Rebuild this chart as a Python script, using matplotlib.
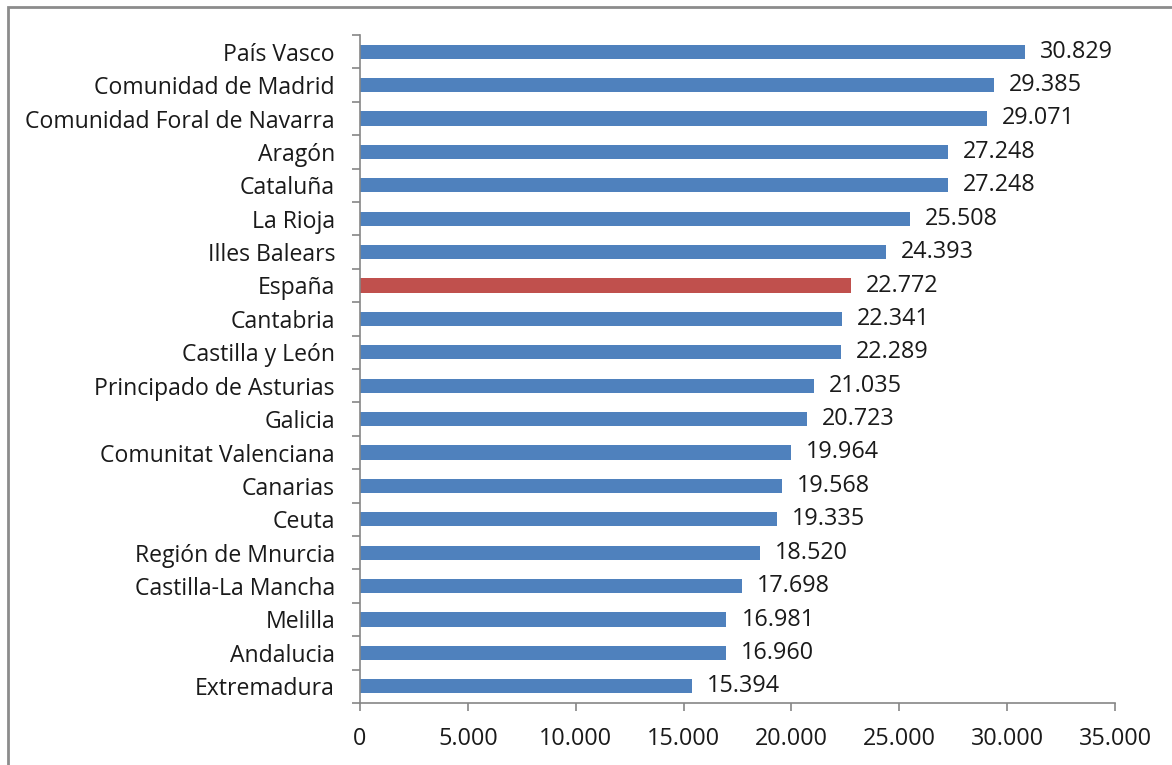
import matplotlib.pyplot as plt
import matplotlib.patches as patches
import numpy as np
from matplotlib.ticker import FuncFormatter, FixedLocator

regions = ['País Vasco', 'Comunidad de Madrid', 'Comunidad Foral de Navarra',
           'Aragón', 'Cataluña', 'La Rioja', 'Illes Balears', 'España',
           'Cantabria', 'Castilla y León', 'Principado de Asturias', 'Galicia',
           'Comunitat Valenciana', 'Canarias', 'Ceuta', 'Región de Mnurcia',
           'Castilla-La Mancha', 'Melilla', 'Andalucia', 'Extremadura']
values = [30829, 29385, 29071, 27248, 27248, 25508, 24393, 22772, 22341, 22289,
          21035, 20723, 19964, 19568, 19335, 18520, 17698, 16981, 16960, 15394]
highlight = 'España'

plt.rcParams['font.family'] = ['Open Sans', 'DejaVu Sans']


def miles(v, pos=None):
    return f'{int(v):,}'.replace(',', '.')


fig = plt.figure(figsize=(11.72, 7.65), dpi=100)
ax = fig.add_axes([360 / 1172, 1 - 703 / 765, (1115 - 360) / 1172, (703 - 35) / 765])

# outer frame of the chart area (clipped at right and bottom like the original)
fig.patches.append(patches.Rectangle((8 / 1172, -0.1), 1.2, 0.1 + (765 - 7) / 765,
                                     transform=fig.transFigure, fill=False,
                                     edgecolor='#8c8c8c', linewidth=2))

y = np.arange(len(regions))[::-1]
colors = ['#C0504D' if r == highlight else '#4F81BD' for r in regions]
ax.barh(y, values, height=0.42, color=colors)

for yi, v in zip(y, values):
    ax.text(v + 700, yi, miles(v), va='center', ha='left', fontsize=16.8, color='#1a1a1a')

ax.set_xlim(0, 35000)
ax.set_ylim(-0.5, len(regions) - 0.5)
ax.set_xticks(np.arange(0, 35001, 5000))
ax.xaxis.set_major_formatter(FuncFormatter(miles))
ax.set_yticks(y)
ax.set_yticklabels(regions)
ax.yaxis.set_minor_locator(FixedLocator(np.arange(-0.5, len(regions), 1)))
ax.tick_params(axis='y', which='major', length=0, pad=18, labelsize=16.6, labelcolor='#1a1a1a')
ax.tick_params(axis='y', which='minor', length=6, color='#868686', width=1.2)
ax.tick_params(axis='x', length=6, color='#868686', width=1.2, pad=11,
               labelsize=16.8, labelcolor='#1a1a1a')

for s in ['top', 'right']:
    ax.spines[s].set_visible(False)
for s in ['left', 'bottom']:
    ax.spines[s].set_color('#868686')
    ax.spines[s].set_linewidth(1.2)

fig.savefig('out.png', dpi=100)
